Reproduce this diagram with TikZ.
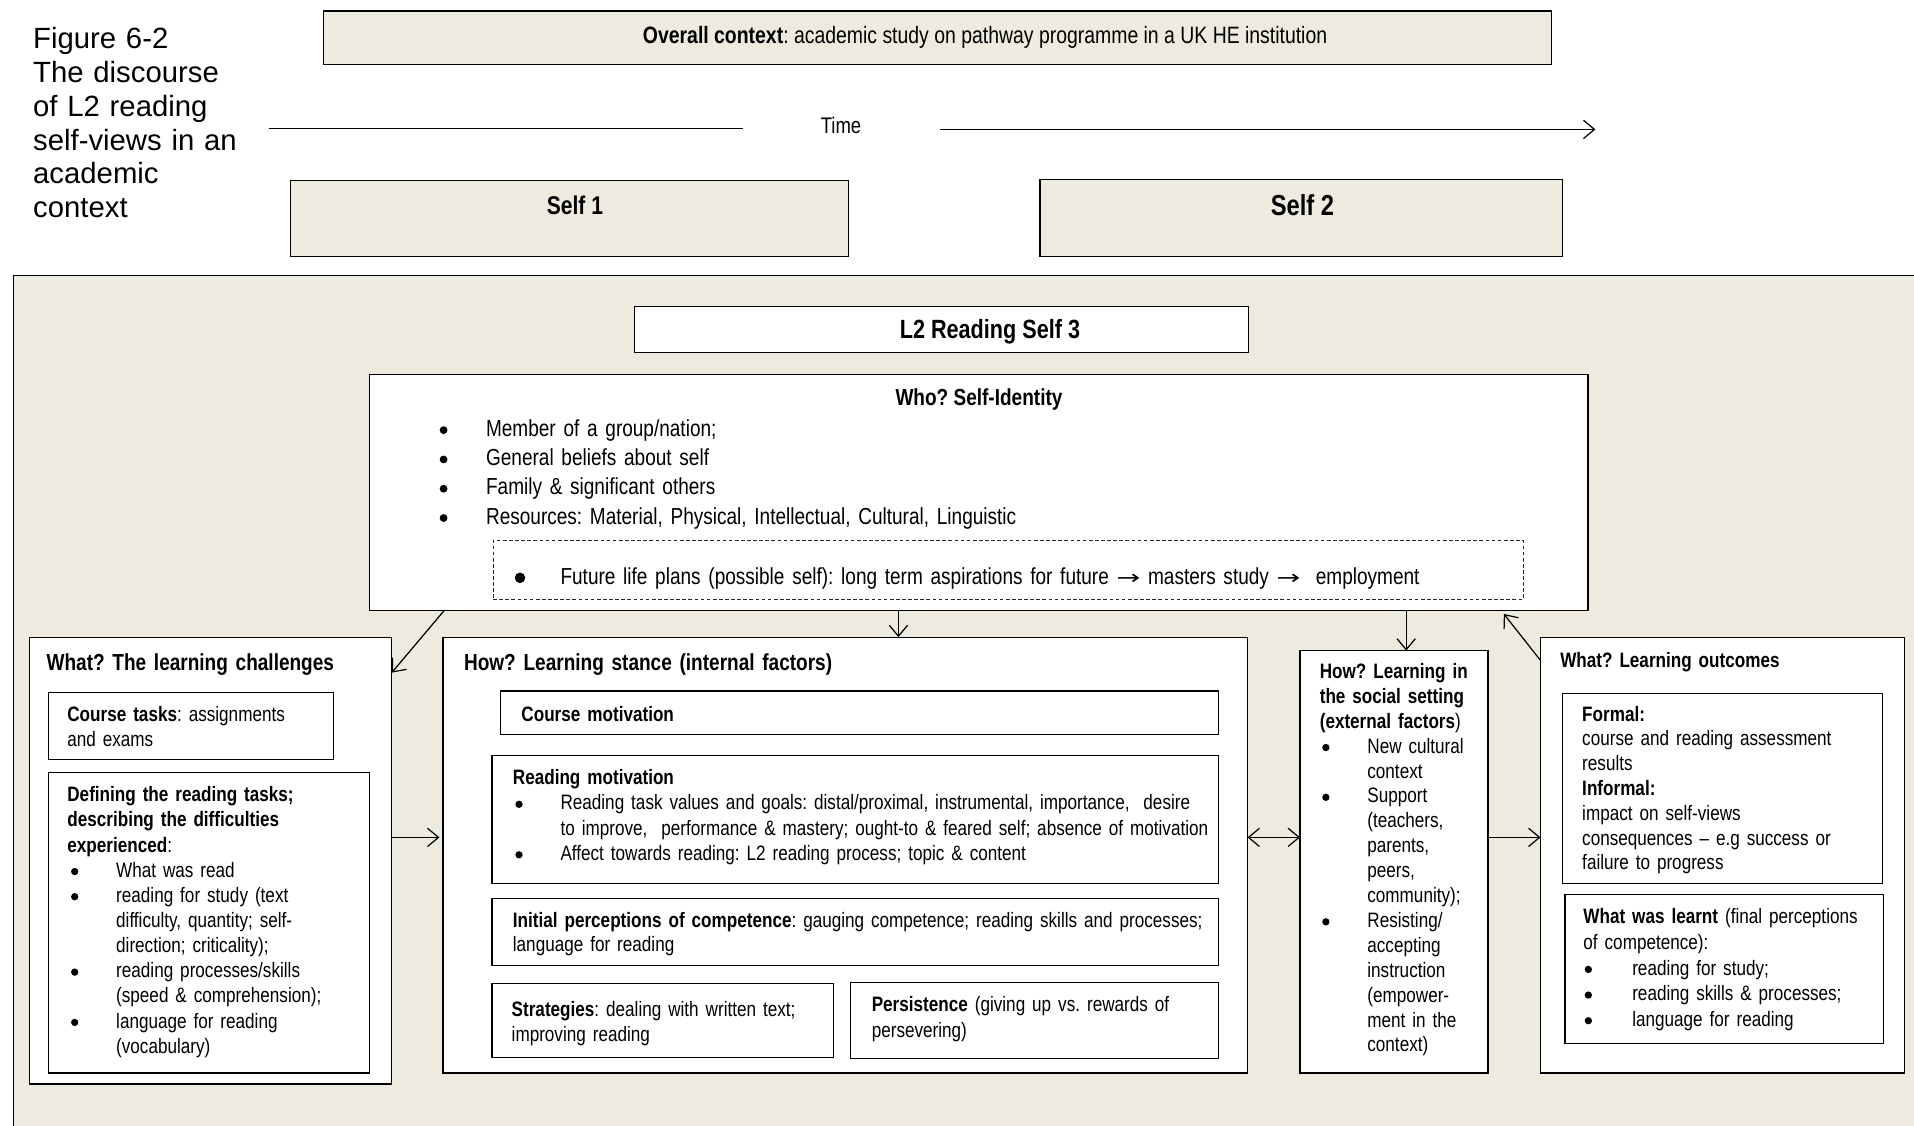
\documentclass[tikz,border=0pt]{standalone}
\usepackage{fontspec}
\setmainfont{Liberation Sans}
\newfontfamily\narrow{Liberation Sans}[FakeStretch=0.82]
\newfontfamily\symfont{DejaVu Sans}
\usetikzlibrary{arrows.meta}
\definecolor{paper}{RGB}{237,235,224}
\frenchspacing
% text sizes
\newcommand{\sm}{\narrow\fontsize{17.1}{20.4}\selectfont}
\newcommand{\md}{\narrow\fontsize{19}{24}\selectfont}
% forced line break inside a paragraph (keeps hanging indent)
\newcommand{\nl}{\unskip\hfil\break}
% round bullet of radius \br, centred at mid x-height
\newcommand{\br}{3pt}
\newcommand{\bmark}{\tikz[baseline={(0pt,-0.27em)}]\fill (0pt,0pt) circle (\br);}
% bullet item: #1 = bullet offset, #2 = text indent
\newcommand{\bulx}[2]{\noindent\hangindent=#2\hangafter=0\llap{\makebox[#2][l]{\hspace*{#1}\bmark}}}
\newcommand{\bul}[2]{\par\bulx{#1}{#2}}
% long thin arrow used in running text
\newcommand{\ra}{{\symfont\fontsize{16}{16}\selectfont\scalebox{1.45}[1]{→}}}
% rectangular panel from (x1,y1) to (x2,y2)
\newcommand{\panel}[6][]{\node[panel,#1,minimum width={#5-#3},minimum height={#6-#4}] (#2) at (#3,#4) {};}

\begin{document}
\begin{tikzpicture}[x=1pt,y=-1pt,
  panel/.style={draw=black, line width=1pt, fill=white, inner sep=0pt, outer sep=0pt, anchor=north west},
  txt/.style={inner sep=0pt, anchor=base west, align=left, text width=#1},
  txt/.default=640pt,
  arr/.style={line width=1pt, -{Straight Barb[length=9pt,width=15pt,line width=1pt]}},
  darr/.style={line width=1pt, {Straight Barb[length=9pt,width=15pt,line width=1pt]}-{Straight Barb[length=9pt,width=15pt,line width=1pt]}}]
\useasboundingbox (0,0) rectangle (1568,922);

% ---------- heading ----------
\node[txt=200pt, font=\fontsize{24}{27.8}\selectfont] (title) at (27,39.5)
  {Figure 6-2\\The discourse\\of L2 reading\\self-views in an\\academic\\context};

\panel[fill=paper]{ctx}{265}{9}{1271}{53}
\node[font=\narrow\fontsize{19.4}{22}\selectfont] (ctxt) at (807,30.5) {\textbf{Overall context}: academic study on pathway programme in a UK HE institution};

% time line
\coordinate (ta) at (220,105);
\coordinate (tb) at (609,105);
\node[font=\narrow\fontsize{18.5}{20}\selectfont] (time) at (689,103) {Time};
\coordinate (tc) at (770,106);
\coordinate (td) at (1307,106);
\draw[line width=1pt] (ta) -- (tb);
\draw[arr] (tc) -- (td);

\panel[fill=paper]{s1}{238}{148}{695}{210}
\node[font=\narrow\bfseries\fontsize{21}{24}\selectfont] (s1t) at (471,168) {Self 1};
\panel[fill=paper]{s2}{852}{147}{1280}{210}
\node[font=\narrow\bfseries\fontsize{23.7}{26}\selectfont] (s2t) at (1067,168) {Self 2};

% ---------- L2 reading self 3 ----------
\panel[fill=paper]{frame}{11}{226}{1580}{935}

\panel{l2}{520}{251}{1023}{289}
\node[font=\narrow\bfseries\fontsize{21.6}{24}\selectfont] (l2t) at (811,272) {L2 Reading Self 3};

\panel{who}{303}{307}{1301}{500}
\node[font=\md\bfseries] (whot) at (802,327) {Who? Self-Identity};
\node[txt, font=\md] (whol) at (360,357.5)
  {\renewcommand{\br}{3.2pt}%
   \bulx{0pt}{38pt}Member of a group/nation;
   \bul{0pt}{38pt}General beliefs about self
   \bul{0pt}{38pt}Family \& significant others
   \bul{0pt}{38pt}Resources: Material, Physical, Intellectual, Cultural, Linguistic\par};
\panel[draw=black!85, line width=0.7pt, dash pattern=on 3pt off 2pt]{fut}{404}{443}{1248}{491}
\node[txt=900pt, font=\md] (futt) at (421,478.5)
  {\renewcommand{\br}{4.3pt}%
   \bulx{0.5pt}{38pt}Future life plans (possible self): long term aspirations for future \ra{} masters study \ra\ \ employment\par};

% ---------- learning challenges ----------
\panel{lc}{24}{522}{321}{888}
\node[txt, font=\md\bfseries] (lct) at (38,549.5) {What? The learning challenges};
\panel{ct}{40}{567}{273}{622}
\node[txt, font=\sm] (ctt) at (55,590.8) {\textbf{Course tasks}: assignments\\and exams};
\panel{df}{40}{633}{303}{879}
\node[txt, font=\narrow\fontsize{17.1}{20.6}\selectfont] (dft) at (55,656.8)
  {\noindent\textbf{Defining the reading tasks;}\nl\textbf{describing the difficulties}\nl\textbf{experienced}:
   \bul{3pt}{40pt}What was read
   \bul{3pt}{40pt}reading for study (text\nl difficulty, quantity; self-\nl direction; criticality);
   \bul{3pt}{40pt}reading processes/skills\nl (speed \& comprehension);
   \bul{3pt}{40pt}language for reading\nl (vocabulary)\par};

% ---------- learning stance ----------
\panel{mid}{363}{522}{1022}{879}
\node[txt, font=\md\bfseries] (midt) at (380,549.5) {How? Learning stance (internal factors)};
\panel{cm}{410}{566}{998}{602}
\node[txt, font=\sm\bfseries] (cmt) at (427,590.8) {Course motivation};
\panel{rm}{403}{619}{998}{724}
\node[txt, font=\narrow\fontsize{17.1}{20.7}\selectfont] (rmt) at (420,642.8)
  {\noindent\textbf{Reading motivation}
   \bul{2pt}{39pt}Reading task values and goals: distal/proximal, instrumental, importance,\ \ desire\nl to improve,\ \ performance \& mastery; ought-to \& feared self; absence of motivation
   \bul{2pt}{39pt}Affect towards reading: L2 reading process; topic \& content\par};
\panel{ip}{403}{736}{998}{791}
\node[txt, font=\narrow\fontsize{17.1}{20}\selectfont] (ipt) at (420,759.8)
  {\textbf{Initial perceptions of competence}: gauging competence; reading skills and processes;\\language for reading};
\panel{st}{403}{806}{683}{866}
\node[txt, font=\narrow\fontsize{17.1}{20}\selectfont] (stt) at (419,832.8)
  {\textbf{Strategies}: dealing with written text;\\improving reading};
\panel{ps}{697}{805}{998}{867}
\node[txt, font=\narrow\fontsize{17.1}{21}\selectfont] (pst) at (714,828.8)
  {\textbf{Persistence} (giving up vs. rewards of\\persevering)};

% ---------- social setting ----------
\panel{soc}{1065}{533}{1219}{879}
\node[txt, font=\sm] (soct) at (1081,555.8)
  {\noindent\textbf{How? Learning in}\nl\textbf{the social setting}\nl\textbf{(external factors})
   \bul{2pt}{39pt}New cultural\nl context
   \bul{2pt}{39pt}Support\nl (teachers,\nl parents,\nl peers,\nl community);
   \bul{2pt}{39pt}Resisting/\nl accepting\nl instruction\nl (empower-\nl ment in the\nl context)\par};

% ---------- learning outcomes ----------
\panel{oc}{1262}{522}{1560}{879}
\node[txt, font=\sm\bfseries] (oct) at (1278,546.8) {What? Learning outcomes};
\panel{fm}{1280}{568}{1542}{724}
\node[txt, font=\narrow\fontsize{17.1}{20.3}\selectfont] (fmt) at (1296,590.8)
  {\textbf{Formal:}\\course and reading assessment\\results\\\textbf{Informal:}\\impact on self-views\\consequences – e.g success or\\failure to progress};
\panel{wl}{1282}{733}{1543}{855}
\node[txt, font=\narrow\fontsize{17.1}{21}\selectfont] (wlt) at (1297,756.8)
  {\noindent\textbf{What was learnt} (final perceptions\nl of competence):
   \bul{1pt}{40pt}reading for study;
   \bul{1pt}{40pt}reading skills \& processes;
   \bul{1pt}{40pt}language for reading\par};

% ---------- connectors ----------
\draw[arr] ([xshift=61pt]who.south west) -- ([yshift=-29pt]lc.north east);
\draw[arr] (736,0 |- who.south) -- (736,0 |- mid.north);
\draw[arr] (1152,0 |- who.south) -- (1152,0 |- soc.north);
\draw[arr] ([yshift=-19pt]oc.north west) -- ([xshift=-69pt,yshift=-3pt]who.south east);
\draw[arr] (lc.east |- 0,686) -- ([xshift=-3pt]mid.west |- 0,686);
\draw[darr] (mid.east |- 0,686) -- (soc.west |- 0,686);
\draw[arr] (soc.east |- 0,686) -- (oc.west |- 0,686);
\end{tikzpicture}
\end{document}
